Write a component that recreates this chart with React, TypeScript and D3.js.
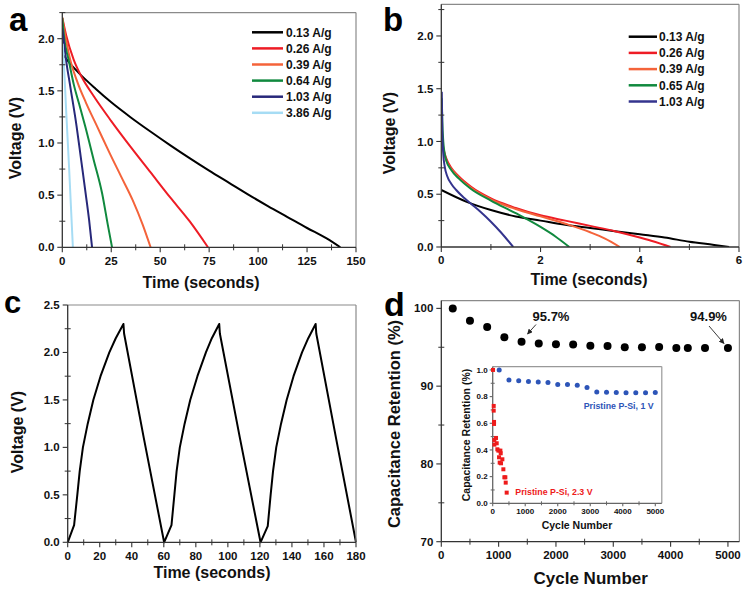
import React from "react";
import * as d3 from "d3";

const FONT = "'Liberation Sans', Arial, Helvetica, sans-serif";

// ---------- Panel a: discharge curves ----------
const aLabels = ["0.13 A/g", "0.26 A/g", "0.39 A/g", "0.64 A/g", "1.03 A/g", "3.86 A/g"];
const aColors = ["#000000", "#ee1c25", "#f4633a", "#10893e", "#27287a", "#a6dcf4"];
const aT013 = [0, 1, 4, 9, 17, 25, 35, 45, 55, 65, 75, 85, 95, 105, 115, 125, 135, 142];
const aV013 = [1.85, 1.83, 1.76, 1.66, 1.52, 1.39, 1.245, 1.11, 0.98, 0.855, 0.735, 0.62, 0.505, 0.395, 0.29, 0.185, 0.085, 0];
const aT026 = [0, 2, 5.8, 10, 16, 25, 35, 45, 55, 65, 74.4];
const aV026 = [2.2, 2.03, 1.8, 1.63, 1.45, 1.21, 0.96, 0.72, 0.48, 0.25, 0];
const aT039 = [0, 2, 4, 8, 12, 18, 24, 30, 36, 41, 45.1];
const aV039 = [2.2, 1.98, 1.8, 1.57, 1.39, 1.15, 0.91, 0.68, 0.45, 0.22, 0];
const aT064 = [0, 1, 3.2, 6, 8.5, 11.7, 16, 20.3, 23.2, 25.4];
const aV064 = [2.2, 2.0, 1.8, 1.55, 1.38, 1.16, 0.84, 0.52, 0.22, 0];
const aT103 = [0, 0.5, 1.9, 4, 7.3, 9.6, 11.9, 13.7, 15.2];
const aV103 = [2.1, 2.02, 1.8, 1.55, 1.16, 0.84, 0.52, 0.26, 0];
const aT386 = [0.2, 0.7, 2, 3.5, 5.4];
const aV386 = [1.95, 1.8, 1.3, 0.75, 0];
const aTimes = [aT013, aT026, aT039, aT064, aT103, aT386];
const aVolts = [aV013, aV026, aV039, aV064, aV103, aV386];
const aXTicks = [0, 25, 50, 75, 100, 125, 150];
const aYTicks = [0, 0.5, 1.0, 1.5, 2.0];

// ---------- Panel b ----------
const bLabels = ["0.13 A/g", "0.26 A/g", "0.39 A/g", "0.65 A/g", "1.03 A/g"];
const bColors = ["#000000", "#ee1c25", "#f4633a", "#10893e", "#34348e"];
const bT013 = [0, 0.5, 1, 1.5, 2, 2.5, 3, 3.5, 4, 4.5, 5, 5.5, 5.8];
const bV013 = [0.54, 0.43, 0.35, 0.29, 0.25, 0.21, 0.18, 0.15, 0.12, 0.09, 0.05, 0.02, 0];
const bT026 = [0.01, 0.03, 0.06, 0.1, 0.2, 0.35, 0.6, 1, 1.5, 2, 2.5, 3, 3.5, 4, 4.3, 4.62];
const bV026 = [1.1, 0.98, 0.9, 0.84, 0.75, 0.67, 0.57, 0.46, 0.37, 0.3, 0.25, 0.2, 0.15, 0.09, 0.05, 0];
const bT039 = [0.01, 0.03, 0.06, 0.1, 0.2, 0.35, 0.6, 1, 1.5, 2, 2.5, 3, 3.3, 3.6];
const bV039 = [1.05, 0.95, 0.88, 0.82, 0.74, 0.66, 0.56, 0.45, 0.36, 0.29, 0.22, 0.14, 0.08, 0];
const bT065 = [0.01, 0.02, 0.04, 0.07, 0.1, 0.2, 0.35, 0.6, 1, 1.5, 2, 2.3, 2.58];
const bV065 = [1.41, 1.2, 1.0, 0.88, 0.82, 0.73, 0.65, 0.55, 0.44, 0.32, 0.19, 0.1, 0];
const bT103 = [0.01, 0.02, 0.04, 0.07, 0.12, 0.2, 0.3, 0.45, 0.6, 0.8, 1.0, 1.2, 1.45];
const bV103 = [1.47, 1.1, 0.88, 0.76, 0.67, 0.6, 0.54, 0.47, 0.41, 0.33, 0.24, 0.14, 0];
const bTimes = [bT013, bT026, bT039, bT065, bT103];
const bVolts = [bV013, bV026, bV039, bV065, bV103];
const bXTicks = [0, 2, 4, 6];
const bYTicks = [0, 0.5, 1.0, 1.5, 2.0];

// ---------- Panel c: galvanostatic cycling ----------
const cTime = [0, 4, 6, 7.5, 9.5, 12.5, 16, 20.5, 26, 30, 34.8, 35.2, 47.5, 60.2,
  64.8, 66.6, 68, 70, 73, 76.5, 81, 86.3, 90, 94.6, 95, 107.5, 120.4,
  124.9, 126.7, 128.2, 130.2, 133.2, 136.7, 141, 146.3, 150.2, 154.8, 155.2, 167.5, 180];
const cVolt = [0, 0.18, 0.5, 0.75, 1.0, 1.25, 1.5, 1.75, 2.0, 2.15, 2.3, 2.2, 1.1, 0,
  0.18, 0.5, 0.75, 1.0, 1.25, 1.5, 1.75, 2.0, 2.15, 2.3, 2.2, 1.1, 0,
  0.17, 0.5, 0.75, 1.0, 1.25, 1.5, 1.75, 2.0, 2.15, 2.3, 2.2, 1.1, 0];
const cXTicks = [0, 20, 40, 60, 80, 100, 120, 140, 160, 180];
const cYTicks = [0, 0.5, 1.0, 1.5, 2.0, 2.5];

// ---------- Panel d: cycling stability ----------
const dCycles = [200, 500, 800, 1100, 1400, 1700, 2000, 2300, 2600, 2900, 3200, 3500, 3800, 4100, 4300, 4600, 5000];
const dRetention = [100, 98.4, 97.6, 96.3, 95.7, 95.5, 95.4, 95.35, 95.2, 95.15, 95.0, 95.0, 95.05, 94.9, 94.9, 94.9, 94.9];
const dXTicks = [0, 1000, 2000, 3000, 4000, 5000];
const dYTicks = [70, 80, 90, 100];

// inset
const inBlueCycles = [200, 500, 800, 1100, 1400, 1700, 2000, 2300, 2600, 2900, 3200, 3500, 3800, 4100, 4400, 4700, 5000];
const inBlueRet = [1.0, 0.925, 0.918, 0.913, 0.91, 0.905, 0.89, 0.89, 0.885, 0.868, 0.835, 0.833, 0.83, 0.828, 0.828, 0.828, 0.83];
const inRedCycles = [10, 31, 31, 41, 41, 51, 51, 102, 123, 143, 174, 195, 215, 236, 246, 256, 297, 328, 359, 389, 400, 430];
const inRedRet = [1.0, 0.73, 0.695, 0.61, 0.595, 0.475, 0.44, 0.49, 0.45, 0.405, 0.395, 0.345, 0.305, 0.395, 0.375, 0.3, 0.33, 0.255, 0.195, 0.195, 0.155, 0.08];
const inXTicks = [0, 1000, 2000, 3000, 4000, 5000];
const inYTicks = [0, 0.2, 0.4, 0.6, 0.8, 1.0];

type Sc = d3.ScaleLinear<number, number>;

function Axes(props: {
  x: Sc; y: Sc; xTicks: number[]; xMinor: number[]; yTicks: number[]; yMinor: number[];
  xFmt: (v: number) => string; yFmt: (v: number) => string; fs: number;
  axisColor: string; frameColor: string; major: number; minor: number; xLabOff: number; yLabOff: number;
}) {
  const { x, y, xTicks, xMinor, yTicks, yMinor, xFmt, yFmt, fs, axisColor, frameColor, major, minor, xLabOff, yLabOff } = props;
  const [x0, x1] = x.range();
  const [y0, y1] = y.range();
  return (
    <g>
      <line x1={x0} x2={x1} y1={y1} y2={y1} stroke={frameColor} strokeWidth={1.2} />
      <line x1={x1} x2={x1} y1={y0} y2={y1} stroke={frameColor} strokeWidth={1.2} />
      <line x1={x0} x2={x1} y1={y0} y2={y0} stroke={axisColor} strokeWidth={1.3} />
      <line x1={x0} x2={x0} y1={y0} y2={y1} stroke={axisColor} strokeWidth={1.3} />
      {xTicks.map((t) => (
        <g key={"xt" + t}>
          <line x1={x(t)} x2={x(t)} y1={y0} y2={y0 + major} stroke={axisColor} strokeWidth={1.1} />
          <text x={x(t)} y={y0 + xLabOff} textAnchor="middle" fontSize={fs} fontWeight="bold" fill="#111">{xFmt(t)}</text>
        </g>
      ))}
      {xMinor.map((t) => (
        <line key={"xm" + t} x1={x(t)} x2={x(t)} y1={y0 - minor} y2={y0 + minor} stroke={axisColor} strokeWidth={1} />
      ))}
      {yTicks.map((t) => (
        <g key={"yt" + t}>
          <line x1={x0 - major} x2={x0} y1={y(t)} y2={y(t)} stroke={axisColor} strokeWidth={1.1} />
          <text x={x0 - yLabOff} y={y(t)} dy="0.35em" textAnchor="end" fontSize={fs} fontWeight="bold" fill="#111">{yFmt(t)}</text>
        </g>
      ))}
      {yMinor.map((t) => (
        <line key={"ym" + t} x1={x0 - minor} x2={x0 + minor} y1={y(t)} y2={y(t)} stroke={axisColor} strokeWidth={1} />
      ))}
    </g>
  );
}

function pathOf(xs: number[], ys: number[], x: Sc, y: Sc, curve: d3.CurveFactory) {
  const pts: [number, number][] = xs.map((t, i) => [t, ys[i]]);
  return d3.line<[number, number]>().x((d) => x(d[0])).y((d) => y(d[1])).curve(curve)(pts) || "";
}

export default function App() {
  const f1 = (v: number) => v.toFixed(1);
  const f0 = (v: number) => String(v);

  // scales
  const ax = d3.scaleLinear().domain([0, 150]).range([62.3, 356]);
  const ay = d3.scaleLinear().domain([0, 2.25]).range([247.3, 12.6]);
  const bx = d3.scaleLinear().domain([0, 6]).range([441.3, 739]);
  const by = d3.scaleLinear().domain([0, 2.3]).range([247, 4.3]);
  const cx = d3.scaleLinear().domain([0, 180]).range([67.7, 356]);
  const cy = d3.scaleLinear().domain([0, 2.5]).range([542.3, 305]);
  const dx = d3.scaleLinear().domain([0, 5200]).range([441.3, 739.4]);
  const dy = d3.scaleLinear().domain([70, 101]).range([541.7, 300.6]);
  const ix = d3.scaleLinear().domain([0, 5200]).range([492.7, 661.8]);
  const iy = d3.scaleLinear().domain([0, 1.025]).range([503.3, 366.6]);

  const axisColor = "#333";
  const frameColor = "#8a8a8a";

  return (
    <svg width={744} height={590} style={{ position: "absolute", left: 0, top: 0, background: "#fff" }} fontFamily={FONT}>
      <defs>
        <clipPath id="clipA"><rect x={62.3} y={12.6} width={356 - 62.3} height={247.3 - 12.6} /></clipPath>
        <clipPath id="clipB"><rect x={441.3} y={4.3} width={739 - 441.3} height={247 - 4.3} /></clipPath>
        <marker id="arr" viewBox="0 0 10 10" refX={9} refY={5} markerWidth={6} markerHeight={6} orient="auto">
          <path d="M0,0 L10,5 L0,10 z" fill="#222" />
        </marker>
      </defs>
      <rect x={0} y={0} width={744} height={590} fill="#fff" />

      {/* ---------- Panel a ---------- */}
      <g>
        <g clipPath="url(#clipA)">
          {aTimes.map((ts, i) => (
            <path key={"a" + i} d={pathOf(ts, aVolts[i], ax, ay, d3.curveMonotoneX)} fill="none" stroke={aColors[i]} strokeWidth={2} />
          ))}
        </g>
        <Axes x={ax} y={ay} xTicks={aXTicks} xMinor={[12.5, 37.5, 62.5, 87.5, 112.5, 137.5]} yTicks={aYTicks} yMinor={[0.25, 0.75, 1.25, 1.75, 2.25]}
          xFmt={f0} yFmt={f1} fs={11.5} axisColor={axisColor} frameColor={frameColor} major={5} minor={3} xLabOff={18} yLabOff={8} />
        {aLabels.map((l, i) => (
          <g key={"al" + i}>
            <line x1={252} x2={283} y1={32.3 + i * 16.1} y2={32.3 + i * 16.1} stroke={aColors[i]} strokeWidth={2.5} />
            <text x={286} y={32.3 + i * 16.1} dy="0.36em" fontSize={12} fontWeight="bold" fill="#111">{l}</text>
          </g>
        ))}
        <text x={201} y={288} textAnchor="middle" fontSize={16} fontWeight="bold" fill="#111">Time (seconds)</text>
        <text transform="translate(21,138) rotate(-90)" textAnchor="middle" fontSize={16} fontWeight="bold" fill="#111">Voltage (V)</text>
        <text x={9} y={31} fontSize={33} fontWeight="bold" fill="#000">a</text>
      </g>

      {/* ---------- Panel b ---------- */}
      <g>
        <g clipPath="url(#clipB)">
          {bTimes.map((ts, i) => (
            <path key={"b" + i} d={pathOf(ts, bVolts[i], bx, by, d3.curveMonotoneX)} fill="none" stroke={bColors[i]} strokeWidth={2} />
          ))}
        </g>
        <Axes x={bx} y={by} xTicks={bXTicks} xMinor={[1, 3, 5]} yTicks={bYTicks} yMinor={[0.25, 0.75, 1.25, 1.75, 2.25]}
          xFmt={f0} yFmt={f1} fs={11.5} axisColor={axisColor} frameColor={frameColor} major={5} minor={3} xLabOff={17} yLabOff={8} />
        {bLabels.map((l, i) => (
          <g key={"bl" + i}>
            <line x1={628.7} x2={657} y1={36.7 + i * 16.2} y2={36.7 + i * 16.2} stroke={bColors[i]} strokeWidth={2.5} />
            <text x={659} y={36.7 + i * 16.2} dy="0.36em" fontSize={12} fontWeight="bold" fill="#111">{l}</text>
          </g>
        ))}
        <text x={589} y={285} textAnchor="middle" fontSize={16} fontWeight="bold" fill="#111">Time (seconds)</text>
        <text transform="translate(395,133) rotate(-90)" textAnchor="middle" fontSize={16} fontWeight="bold" fill="#111">Voltage (V)</text>
        <text x={383} y={31} fontSize={33} fontWeight="bold" fill="#000">b</text>
      </g>

      {/* ---------- Panel c ---------- */}
      <g>
        <path d={pathOf(cTime, cVolt, cx, cy, d3.curveLinear)} fill="none" stroke="#000" strokeWidth={2} strokeLinejoin="round" />
        <Axes x={cx} y={cy} xTicks={cXTicks} xMinor={[10, 30, 50, 70, 90, 110, 130, 150, 170]} yTicks={cYTicks} yMinor={[0.25, 0.75, 1.25, 1.75, 2.25]}
          xFmt={f0} yFmt={f1} fs={11.5} axisColor={axisColor} frameColor={frameColor} major={5} minor={3} xLabOff={17.5} yLabOff={8} />
        <text x={212} y={578} textAnchor="middle" fontSize={16} fontWeight="bold" fill="#111">Time (seconds)</text>
        <text transform="translate(22.5,432) rotate(-90)" textAnchor="middle" fontSize={16} fontWeight="bold" fill="#111">Voltage (V)</text>
        <text x={4} y={313} fontSize={31} fontWeight="bold" fill="#000">c</text>
      </g>

      {/* ---------- Panel d ---------- */}
      <g>
        <Axes x={dx} y={dy} xTicks={dXTicks} xMinor={[500, 1500, 2500, 3500, 4500]} yTicks={dYTicks} yMinor={[75, 85, 95]}
          xFmt={f0} yFmt={f0} fs={11.5} axisColor={axisColor} frameColor={frameColor} major={5} minor={3} xLabOff={17.5} yLabOff={8} />
        {dCycles.map((c, i) => (
          <circle key={"d" + i} cx={dx(c)} cy={dy(dRetention[i])} r={4} fill="#000" />
        ))}
        <text x={551} y={321} textAnchor="middle" fontSize={13} fontWeight="bold" fill="#111">95.7%</text>
        <line x1={536} y1={324.5} x2={527.5} y2={334} stroke="#222" strokeWidth={0.9} markerEnd="url(#arr)" />
        <text x={708.5} y={321} textAnchor="middle" fontSize={13} fontWeight="bold" fill="#111">94.9%</text>
        <line x1={709} y1={326} x2={724} y2={343.5} stroke="#222" strokeWidth={0.9} markerEnd="url(#arr)" />

        {/* inset */}
        <rect x={492.7} y={366.6} width={661.8 - 492.7} height={503.3 - 366.6} fill="#fff" />
        <Axes x={ix} y={iy} xTicks={inXTicks} xMinor={[500, 1500, 2500, 3500, 4500]} yTicks={inYTicks} yMinor={[0.1, 0.3, 0.5, 0.7, 0.9]}
          xFmt={f0} yFmt={f1} fs={8} axisColor="#666" frameColor="#999" major={3} minor={2} xLabOff={10.8} yLabOff={5} />
        {inBlueCycles.map((c, i) => (
          <circle key={"ib" + i} cx={ix(c)} cy={iy(inBlueRet[i])} r={2.5} fill="#2d55b8" />
        ))}
        {inRedCycles.map((c, i) => (
          <rect key={"ir" + i} x={ix(c) - 2} y={iy(inRedRet[i]) - 2} width={4} height={4} fill="#ee1b1b" />
        ))}
        <text x={583.7} y={409} fontSize={8.8} fontWeight="bold" fill="#2d55b8">Pristine P-Si, 1 V</text>
        <text x={515.3} y={495} fontSize={8.8} fontWeight="bold" fill="#ee1b1b">Pristine P-Si, 2.3 V</text>
        <text x={577} y={529} textAnchor="middle" fontSize={10.5} fontWeight="bold" fill="#111">Cycle Number</text>
        <text transform="translate(469.5,435) rotate(-90)" textAnchor="middle" fontSize={10.5} fontWeight="bold" fill="#111">Capacitance Retention (%)</text>

        <text x={590.7} y={584} textAnchor="middle" fontSize={17} fontWeight="bold" fill="#111">Cycle Number</text>
        <text transform="translate(399.5,424) rotate(-90)" textAnchor="middle" fontSize={16.5} fontWeight="bold" fill="#111">Capacitance Retention (%)</text>
        <text x={384} y={316} fontSize={34} fontWeight="bold" fill="#000">d</text>
      </g>
    </svg>
  );
}
